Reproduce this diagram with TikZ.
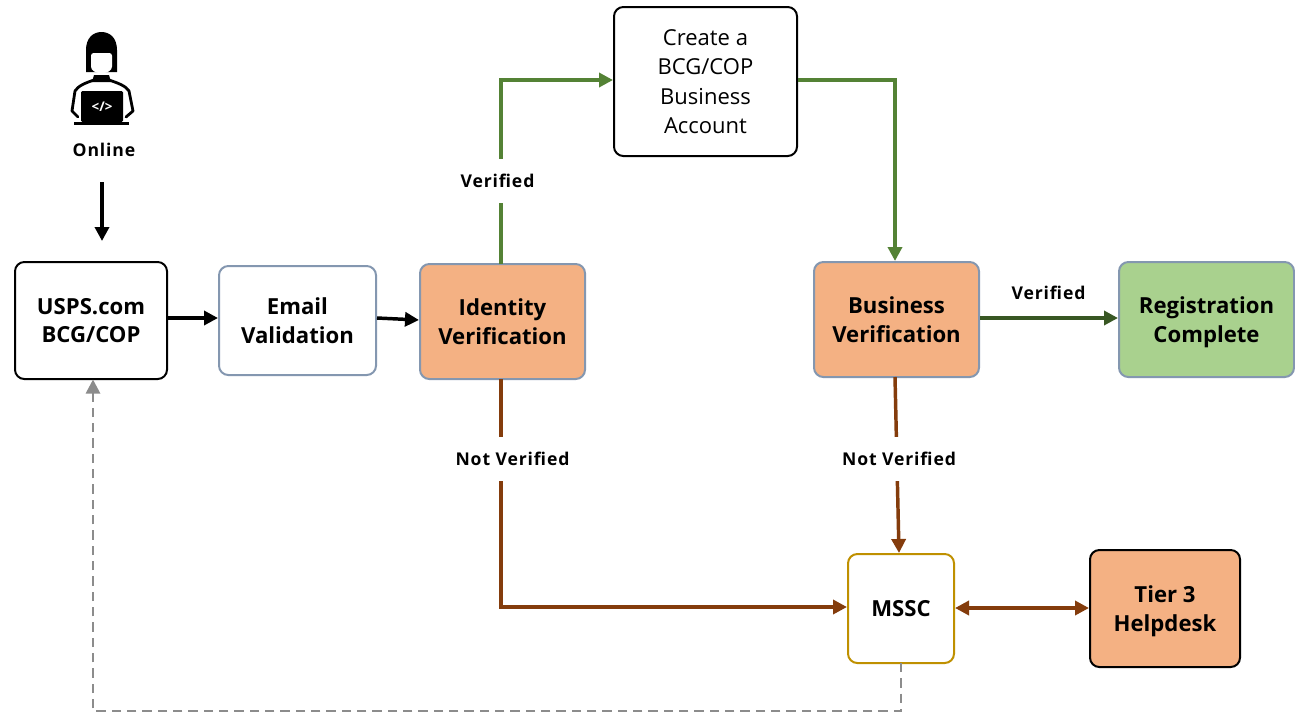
\documentclass[tikz,border=0pt]{standalone}
\usepackage{fontspec}
\setmainfont{Open Sans}
\newfontfamily\tagfont[LetterSpace=5]{Open Sans}
\usetikzlibrary{arrows.meta}
\definecolor{peach}{HTML}{F4B183}
\definecolor{slate}{HTML}{8497B0}
\definecolor{leaf}{HTML}{A9D18E}
\definecolor{gold}{HTML}{BF9000}
\definecolor{rust}{HTML}{843C0C}
\definecolor{grn}{HTML}{548235}
\definecolor{dgrn}{HTML}{385723}
\definecolor{dash}{HTML}{8C8C8C}
\tikzset{
 x=0.75pt,y=-0.75pt,
 box/.style={draw,rounded corners=7pt,line width=1.5pt,align=center,font=\fontsize{16.6pt}{21.5pt}\selectfont\bfseries,inner sep=0pt,anchor=north west,text depth=-1.5pt},
 tag/.style={fill=white,font=\fontsize{13.2pt}{16pt}\tagfont\bfseries,inner xsep=2pt,inner ysep=0pt,minimum height=33pt,text depth=-3pt},
 arr/.style={-{Triangle[length=10.5pt,width=10.5pt]},line width=2.6pt},
 arrk/.style={arr,draw=black},
}
\begin{document}
\begin{tikzpicture}
\useasboundingbox (0,0) rectangle (1295,714);
\fill[white] (0,0) rectangle (1295,714);
% boxes
\node[box,draw=black,minimum width=114pt,minimum height=87.75pt] (usps) at (14,261) {USPS.com\\BCG/COP};
\node[box,draw=slate,minimum width=117.75pt,minimum height=81.75pt] (email) at (218,265) {Email\\Validation};
\node[box,draw=slate,fill=peach,minimum width=123.75pt,minimum height=86.25pt] (idv) at (419,263) {Identity\\Verification};
\node[box,draw=black,minimum width=137.25pt,minimum height=111.75pt,font=\fontsize{16.5pt}{22pt}\selectfont] (create) at (613,6) {Create a\\BCG/COP\\Business\\Account};
\node[box,draw=slate,fill=peach,minimum width=123.75pt,minimum height=86.25pt] (biz) at (813,261) {Business\\Verification};
\node[box,draw=slate,fill=leaf,minimum width=131.25pt,minimum height=86.25pt] (reg) at (1118,261) {Registration\\Complete};
\node[box,draw=gold,minimum width=79.5pt,minimum height=81.75pt] (mssc) at (847,553) {MSSC};
\node[box,draw=black,fill=peach,minimum width=112.5pt,minimum height=87.75pt] (tier) at (1089,549) {Tier 3\\Helpdesk};
% icon
\fill (86,72) -- (86,50) .. controls (86,38) and (93,32) .. (101.5,32) .. controls (110,32) and (117,38) .. (117,50) -- (117,72) -- cycle;
\fill[white,rounded corners=2pt] (91,53) -- (112,53) -- (112,64) .. controls (112,71) and (106,73) .. (101.5,73) .. controls (97,73) and (91,71) .. (91,64) -- cycle;
\fill (94,75) -- (109,75) -- (111,82) -- (92,82) -- cycle;
\draw[line width=2.1pt,line join=round,line cap=round] (94,80) .. controls (85,83) and (78,86) .. (75,91) -- (72,111) -- (78,117);
\draw[line width=2.1pt,line join=round,line cap=round] (109,80) .. controls (118,83) and (126,86) .. (129,91) -- (133,111) -- (126,117);
\fill[rounded corners=1pt] (81,91) rectangle (123,122);
\fill (74,122) rectangle (129,125);
\node[font=\fontsize{10pt}{10pt}\selectfont\bfseries,text=white,inner sep=0pt] (code) at (102,107) {</>};
\node[font=\fontsize{13.2pt}{16pt}\tagfont\bfseries,inner sep=0pt] (online) at (104,150) {Online};
\coordinate (dn) at (102,241);
\draw[arrk] (102,182) -- (dn);
% connectors
\draw[arrk] (usps.east |- 0,318) -- (email.west |- 0,318);
\draw[arrk] (email.east |- 0,318) -- (idv.west |- 0,320);
\draw[arr,draw=grn] (501,264) -- (501,80) -- (create.west |- 0,80);
\draw[arr,draw=grn] (create.east |- 0,80) -- (895,80) -- (895,261);
\draw[arr,draw=dgrn] (biz.east |- 0,318) -- (reg.west |- 0,318);
\draw[arr,draw=rust] (501,379) -- (501,607) -- (mssc.west |- 0,607);
\draw[arr,draw=rust] (895,377) -- (899,553);
\draw[{Triangle[length=10.5pt,width=10.5pt]}-{Triangle[length=10.5pt,width=10.5pt]},line width=2.6pt,draw=rust] (mssc.east |- 0,608) -- (tier.west |- 0,608);
\draw[-{Triangle[length=10.5pt,width=10.5pt]},line width=2pt,draw=dash,dash pattern=on 7pt off 4.5pt] (901,663) -- (901,711) -- (93,711) -- (93,379.5);
% labels
\node[tag] (v1) at (497.5,181) {Verified};
\node[tag,minimum height=16pt] (v2) at (1048.5,293) {Verified};
\node[tag] (nv1) at (512.5,458.5) {Not Verified};
\node[tag] (nv2) at (899,458.5) {Not Verified};
\end{tikzpicture}
\end{document}
